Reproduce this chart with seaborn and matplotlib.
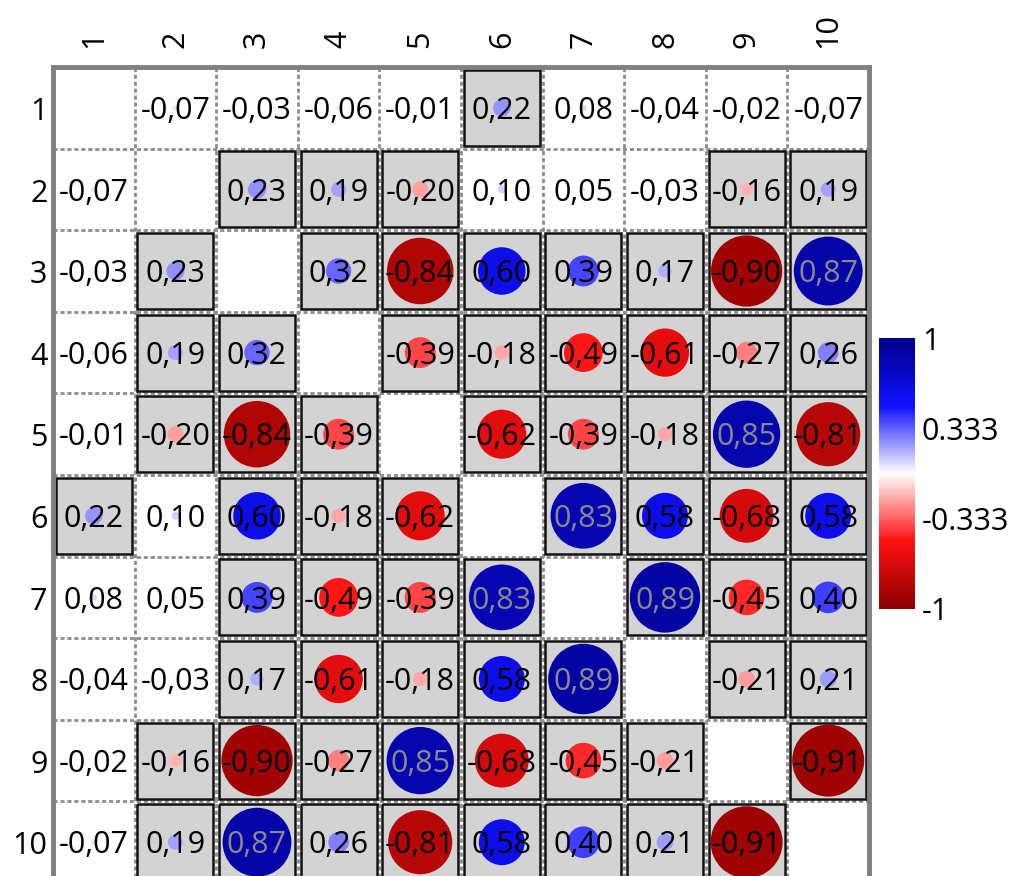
import numpy as np
import pandas as pd
import seaborn as sns
import matplotlib
matplotlib.use("Agg")
from matplotlib import pyplot as plt
from matplotlib import transforms
from matplotlib.colors import LinearSegmentedColormap, ListedColormap, Normalize
from matplotlib.cm import ScalarMappable
from matplotlib.patches import Circle, Rectangle

labels = ['1', '2', '3', '4', '5', '6', '7', '8', '9', '10']
r1 = [np.nan, -0.07, -0.03, -0.06, -0.01, 0.22, 0.08, -0.04, -0.02, -0.07]
r2 = [-0.07, np.nan, 0.23, 0.19, -0.20, 0.10, 0.05, -0.03, -0.16, 0.19]
r3 = [-0.03, 0.23, np.nan, 0.32, -0.84, 0.60, 0.39, 0.17, -0.90, 0.87]
r4 = [-0.06, 0.19, 0.32, np.nan, -0.39, -0.18, -0.49, -0.61, -0.27, 0.26]
r5 = [-0.01, -0.20, -0.84, -0.39, np.nan, -0.62, -0.39, -0.18, 0.85, -0.81]
r6 = [0.22, 0.10, 0.60, -0.18, -0.62, np.nan, 0.83, 0.58, -0.68, 0.58]
r7 = [0.08, 0.05, 0.39, -0.49, -0.39, 0.83, np.nan, 0.89, -0.45, 0.40]
r8 = [-0.04, -0.03, 0.17, -0.61, -0.18, 0.58, 0.89, np.nan, -0.21, 0.21]
r9 = [-0.02, -0.16, -0.90, -0.27, 0.85, -0.68, -0.45, -0.21, np.nan, -0.91]
r10 = [-0.07, 0.19, 0.87, 0.26, -0.81, 0.58, 0.40, 0.21, -0.91, np.nan]
sig_min = 0.15  # cells shaded grey from here on
cbar_ticks = [-1, -0.333, 0.333, 1]
cbar_labels = ['-1', '-0.333', '0.333', '1']

corr = pd.DataFrame([r1, r2, r3, r4, r5, r6, r7, r8, r9, r10], index=labels, columns=labels)
sig = (corr.abs() >= sig_min).astype(float)

sns.set_style("white")
plt.rcParams['font.family'] = ['Open Sans', 'DejaVu Sans']
plt.rcParams['xtick.color'] = 'black'
plt.rcParams['ytick.color'] = 'black'
plt.rcParams['text.color'] = 'black'

cmap = LinearSegmentedColormap.from_list('rb', [(0, '#8b0000'), (0.25, '#ff1010'), (0.5, 'white'),
                                                (0.75, '#1010ff'), (1, '#00008b')])
norm = Normalize(-1, 1)

fig = plt.figure(figsize=(10.15, 8.76), dpi=100)
ax = fig.add_axes([53 / 1015, 1 - 883 / 876, 816 / 1015, 816 / 876])

sns.heatmap(sig, cmap=ListedColormap(['white', '#d3d3d3']), vmin=0, vmax=1, cbar=False,
            linewidths=3, linecolor='white', ax=ax)

n = len(labels)
for k in range(1, n):
    ax.axvline(k, color='#8c8c8c', lw=2, ls=(0, (1.5, 1)), zorder=2)
    ax.axhline(k, color='#8c8c8c', lw=2, ls=(0, (1.5, 1)), zorder=2)

for i in range(n):
    for j in range(n):
        r = corr.iloc[i, j]
        if np.isnan(r):
            continue
        if sig.iloc[i, j]:
            ax.add_patch(Rectangle((j + 0.035, i + 0.035), 0.93, 0.93, fill=False,
                                   ec='#111111', lw=1.8, zorder=3))
        ax.add_patch(Circle((j + 0.5, i + 0.5), 0.485 * abs(r), color=cmap(norm(r)), lw=0, zorder=4))
        tc = '#8a8a8a' if r > 0.7 else 'black'
        ax.text(j + 0.5, i + 0.54, f"{r:.2f}".replace('.', ','), ha='center', va='center',
                fontsize=22, color=tc, zorder=5)

ax.xaxis.tick_top()
ax.tick_params(axis='x', rotation=90, length=0, pad=14, labelsize=22, labelcolor='black')
ax.tick_params(axis='y', rotation=0, length=0, pad=4, labelsize=22, labelcolor='black')
shift = transforms.ScaledTranslation(0, -3 / 72, fig.dpi_scale_trans)
for lab in ax.get_yticklabels():
    lab.set_transform(lab.get_transform() + shift)
ax.set_xlabel('')
ax.set_ylabel('')
for s in ax.spines.values():
    s.set_visible(True)
    s.set_color('#808080')
    s.set_linewidth(3.5)
    s.set_zorder(6)

cax = fig.add_axes([879 / 1015, 1 - 609 / 876, 36 / 1015, 271 / 876])
cb = fig.colorbar(ScalarMappable(norm=norm, cmap=cmap), cax=cax, ticks=cbar_ticks)
cb.ax.set_yticklabels(cbar_labels)
cb.outline.set_visible(False)
cax.tick_params(length=0, pad=5, labelsize=22, labelcolor='black')

fig.savefig('out.png', dpi=100)
